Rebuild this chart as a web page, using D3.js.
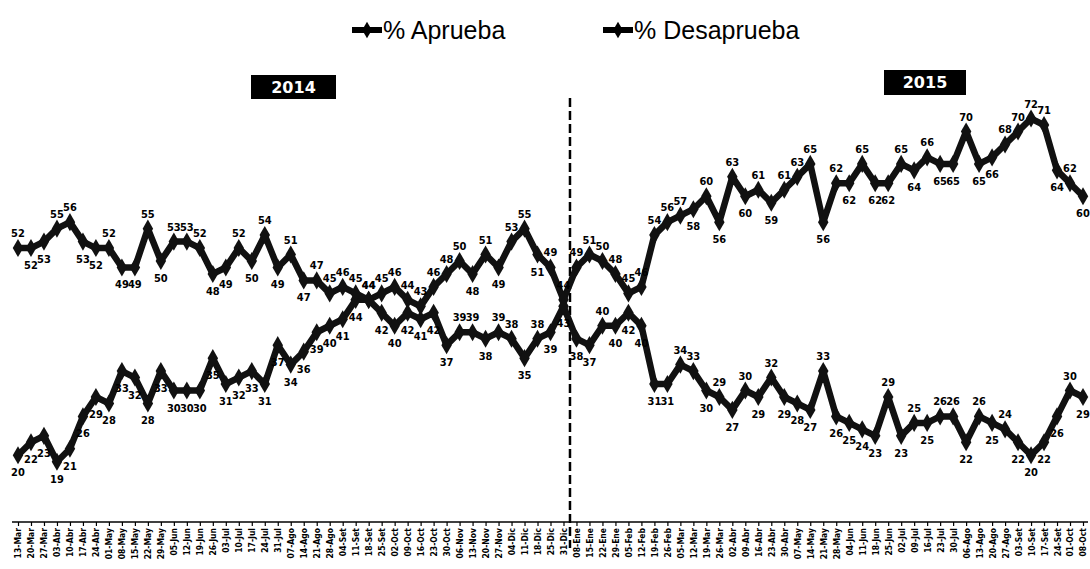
<!DOCTYPE html>
<html>
<head>
<meta charset="utf-8">
<script src="https://cdn.jsdelivr.net/npm/d3@7"></script>
<style>
  body { margin: 0; background: #fff; }
  svg { display: block; }
</style>
</head>
<body>
<svg id="chart" width="1090" height="569"></svg>
<script>
// fechas semanales (2014 - 2015)
const fechas = [
  "13-Mar","20-Mar","27-Mar","03-Abr","10-Abr","17-Abr","24-Abr","01-May","08-May","15-May",
  "22-May","29-May","05-Jun","12-Jun","19-Jun","26-Jun","03-Jul","10-Jul","17-Jul","24-Jul",
  "31-Jul","07-Ago","14-Ago","21-Ago","28-Ago","04-Set","11-Set","18-Set","25-Set","02-Oct",
  "09-Oct","16-Oct","23-Oct","30-Oct","06-Nov","13-Nov","20-Nov","27-Nov","04-Dic","11-Dic",
  "18-Dic","25-Dic","31-Dic",
  "08-Ene","15-Ene","22-Ene","29-Ene","05-Feb","12-Feb","19-Feb","26-Feb","05-Mar","12-Mar",
  "19-Mar","26-Mar","02-Abr","09-Abr","16-Abr","23-Abr","30-Abr","07-May","14-May","21-May",
  "28-May","04-Jun","11-Jun","18-Jun","25-Jun","02-Jul","09-Jul","16-Jul","23-Jul","30-Jul",
  "06-Ago","13-Ago","20-Ago","27-Ago","03-Set","10-Set","17-Set","24-Set","01-Oct","08-Oct"
];

const aprueba = [
  20,22,23,19,21,26,29,28,33,32,28,33,30,30,30,35,31,32,33,31,37,34,36,39,40,41,44,
  44,45,46,44,43,46,48,50,48,51,49,53,55,51,49,
  44,
  49,51,50,48,45,46,54,56,57,58,60,56,63,60,61,59,61,63,65,56,
  62,62,65,62,62,65,64,66,65,65,70,65,66,68,70,72,71,64,62,60
];

const desaprueba = [
  52,52,53,55,56,53,52,52,49,49,55,50,53,53,52,48,49,52,50,54,49,51,47,47,45,46,45,
  44,42,40,42,41,42,37,39,39,38,39,38,35,38,39,
  43,
  38,37,40,40,42,40,31,31,34,33,30,29,27,30,29,32,29,28,27,33,
  26,25,24,23,29,23,25,25,26,26,22,26,25,24,22,20,22,26,30,29
];

const series = [
  { name: "% Aprueba", values: aprueba },
  { name: "% Desaprueba", values: desaprueba }
];
const anios = ["2014", "2015"];
const corte = 42; // ultimo punto de 2014
const cruce = 27; // las lineas se cruzan aqui en 2014

const svg = d3.select("#chart");
const x = d3.scalePoint().domain(d3.range(fechas.length)).range([18, 1083]);
const y = d3.scaleLinear().domain([10, 90]).range([520, 2]);

// eje x
svg.append("line")
  .attr("x1", 12).attr("x2", 1088)
  .attr("y1", 522).attr("y2", 522)
  .attr("stroke", "#000").attr("stroke-width", 1.5);

const gx = svg.append("g")
  .attr("transform", "translate(0,522)")
  .call(d3.axisBottom(x).tickFormat(i => fechas[i]).tickSize(4).tickSizeOuter(0));
gx.select(".domain").remove();
gx.selectAll(".tick line").attr("stroke", "#000").attr("stroke-width", 1.2);
gx.selectAll("text")
  .attr("transform", "rotate(-90)")
  .attr("x", -6).attr("y", 0).attr("dy", "0.35em")
  .style("text-anchor", "end")
  .style("font-family", "'Liberation Sans Narrow', 'DejaVu Sans Condensed', sans-serif")
  .style("font-weight", "bold")
  .style("font-size", "8.5px")
  .attr("fill", "#000");

// linea divisoria entre años
const xCorte = (x(corte) + x(corte + 1)) / 2;
svg.append("line")
  .attr("x1", xCorte).attr("x2", xCorte)
  .attr("y1", 98).attr("y2", 548)
  .attr("stroke", "#000").attr("stroke-width", 2.5)
  .attr("stroke-dasharray", "9,4");

// recuadros de año
const cajas = [
  { t: anios[0], x: 251, y: 75, w: 85, h: 24 },
  { t: anios[1], x: 884, y: 70, w: 82, h: 25 }
];
cajas.forEach(c => {
  svg.append("rect").attr("x", c.x).attr("y", c.y).attr("width", c.w).attr("height", c.h).attr("fill", "#000");
  svg.append("text")
    .attr("x", c.x + c.w / 2).attr("y", c.y + c.h / 2).attr("dy", "0.36em")
    .attr("text-anchor", "middle").attr("fill", "#fff")
    .style("font-family", "'DejaVu Sans', sans-serif").style("font-weight", "bold").style("font-size", "16px")
    .text(c.t);
});

// lineas
const linea = d3.line().x((d, i) => x(i)).y(d => y(d));
series.forEach(s => {
  svg.append("path")
    .datum(s.values)
    .attr("d", linea)
    .attr("fill", "none")
    .attr("stroke", "#111")
    .attr("stroke-width", 6.5)
    .attr("stroke-linejoin", "round");
  svg.append("g").selectAll("path")
    .data(s.values)
    .join("path")
    .attr("transform", (d, i) => `translate(${x(i)},${y(d)})`)
    .attr("d", d3.symbol(d3.symbolDiamond, 95))
    .attr("fill", "#111");
});

// etiquetas de datos: arriba en picos, abajo en valles
series.forEach((s, k) => {
  const otra = series[1 - k].values;
  svg.append("g").selectAll("text")
    .data(s.values)
    .join("text")
    .attr("x", (d, i) => x(i))
    .attr("y", (d, i) => {
      const prev = i > 0 ? s.values[i - 1] : d;
      const next = i < s.values.length - 1 ? s.values[i + 1] : d;
      const prom = (prev + next) / 2;
      let arriba = d >= otra[i];
      if (Math.abs(d - otra[i]) >= 8) {
        if (d > prom) arriba = true;
        else if (d < prom) arriba = false;
      }
      if (i < cruce && d < otra[i]) arriba = false;
      return arriba ? y(d) - 11 : y(d) + 21;
    })
    .attr("text-anchor", "middle")
    .style("font-family", "'DejaVu Sans Condensed', 'Liberation Sans Narrow', sans-serif")
    .style("font-weight", "bold")
    .style("font-size", "11px")
    .attr("fill", "#000")
    .text(d => d);
});

// leyenda
const leyenda = [
  { s: series[0], x: 352 },
  { s: series[1], x: 603 }
];
leyenda.forEach(l => {
  const g = svg.append("g").attr("transform", `translate(${l.x},30)`);
  g.append("line").attr("x1", 0).attr("x2", 30).attr("stroke", "#000").attr("stroke-width", 6);
  g.append("path").attr("transform", "translate(15,0)").attr("d", d3.symbol(d3.symbolDiamond, 80)).attr("fill", "#000");
  g.append("text")
    .attr("x", 31).attr("dy", "0.36em")
    .style("font-family", "'Liberation Sans', Arial, sans-serif")
    .style("font-size", "25px")
    .attr("fill", "#000")
    .text(l.s.name);
});
</script>
</body>
</html>
